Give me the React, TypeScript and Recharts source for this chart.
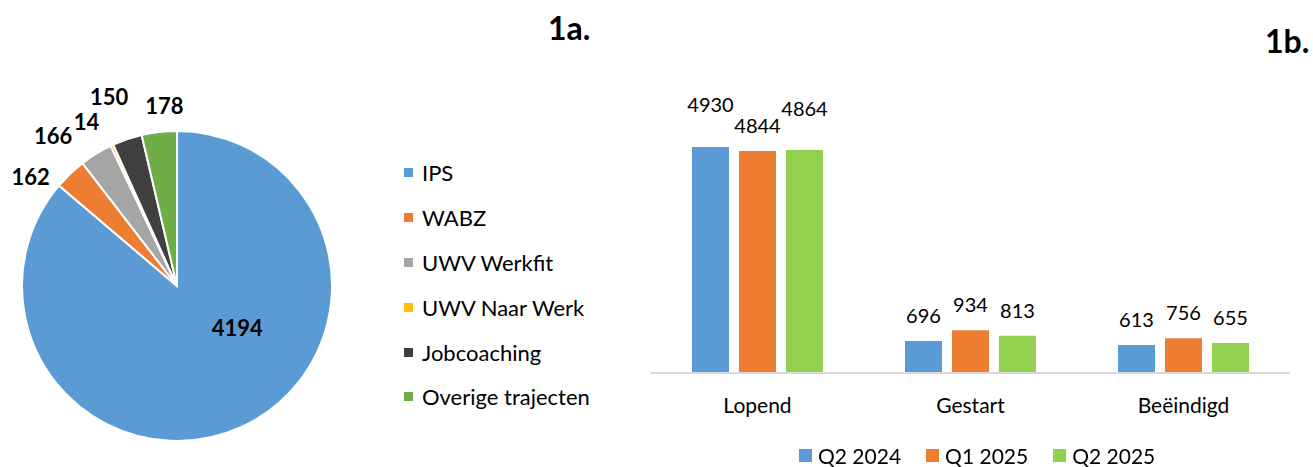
import React from 'react';
import { PieChart, Pie, Cell, BarChart, Bar, XAxis, YAxis, LabelList, Legend } from 'recharts';

const FONT = 'Lato, "Open Sans", sans-serif';

// 1a. trajecten (pie)
const trajectNames = ['IPS', 'WABZ', 'UWV Werkfit', 'UWV Naar Werk', 'Jobcoaching', 'Overige trajecten'];
const trajectCounts = [4194, 162, 166, 14, 150, 178];
const trajectColors = ['#5B9BD5', '#ED7D31', '#A5A5A5', '#FFC000', '#404040', '#70AD47'];

// 1b. status per periode (bars)
const statusCategories = ['Lopend', 'Gestart', 'Beëindigd'];
const q2_2024 = [4930, 696, 613];
const q1_2025 = [4844, 934, 756];
const q2_2025 = [4864, 813, 655];
const periodNames = ['Q2 2024', 'Q1 2025', 'Q2 2025'];
const periodColors = ['#5B9BD5', '#ED7D31', '#92D050'];

// label placement tweaks (Excel moved some labels to avoid overlap)
const pieLabelShift = [31, 9.5, 8, 4, 1, -2.6];
const pieLabelRadius = [73, 183, 195, 188, 201, 181];
const barLabelLift = [
  [17, 0, 0],
  [0, 0, 0],
  [16, 0, 0],
];

const pieData = trajectNames.map((name, i) => ({ name, value: trajectCounts[i] }));
const barData = statusCategories.map((name, i) => ({
  name,
  q2_2024: q2_2024[i],
  q1_2025: q1_2025[i],
  q2_2025: q2_2025[i],
}));
const barKeys = ['q2_2024', 'q1_2025', 'q2_2025'];

const RAD = Math.PI / 180;

const renderPieLabel = (props: any) => {
  const { cx, cy, midAngle, index, value } = props;
  const a = (midAngle + pieLabelShift[index]) * RAD;
  const r = pieLabelRadius[index];
  return (
    <text
      x={cx + r * Math.cos(a)}
      y={cy - r * Math.sin(a)}
      textAnchor="middle"
      dominantBaseline="central"
      fontSize={22}
      fontWeight={700}
      fontFamily={FONT}
      fill="#000"
    >
      {value}
    </text>
  );
};

const makeBarLabel = (lift: number[]) => (props: any) => {
  const { x, y, width, value, index } = props;
  return (
    <text
      x={Number(x) + Number(width) / 2}
      y={Number(y) - 18 - (lift[index] || 0)}
      textAnchor="middle"
      fontSize={20}
      fontFamily={FONT}
      fill="#000"
    >
      {value}
    </text>
  );
};

const PieLegend = () => (
  <div style={{ fontFamily: FONT }}>
    {trajectNames.map((name, i) => (
      <div key={name} style={{ display: 'flex', alignItems: 'center', height: 44.8 }}>
        <span style={{ width: 9, height: 9, background: trajectColors[i], marginRight: 9 }} />
        <span style={{ fontSize: 22, color: '#000' }}>{name}</span>
      </div>
    ))}
  </div>
);

const BarLegend = () => (
  <div style={{ display: 'flex', alignItems: 'center', height: 22, fontFamily: FONT }}>
    {periodNames.map((name, i) => (
      <div key={name} style={{ display: 'flex', alignItems: 'center', marginRight: 25, lineHeight: 1 }}>
        <span style={{ width: 13, height: 13, background: periodColors[i], marginRight: 6 }} />
        <span style={{ fontSize: 21, color: '#000' }}>{name}</span>
      </div>
    ))}
  </div>
);

const titleStyle: React.CSSProperties = {
  position: 'absolute',
  fontFamily: FONT,
  fontWeight: 700,
  fontSize: 32,
  lineHeight: 1,
  color: '#000',
};

export default function App() {
  return (
    <div style={{ position: 'fixed', left: 0, top: 0, width: 1313, height: 467, background: '#fff' }}>
      <div style={{ position: 'absolute', left: 0, top: 0 }}>
        <PieChart width={640} height={467} margin={{ top: 0, right: 0, bottom: 0, left: 0 }}>
          <Pie
            data={pieData}
            dataKey="value"
            nameKey="name"
            cx={177}
            cy={286}
            outerRadius={155}
            startAngle={90}
            endAngle={-270}
            stroke="#fff"
            strokeWidth={2}
            label={renderPieLabel}
            labelLine={false}
            isAnimationActive={false}
          >
            {pieData.map((d, i) => (
              <Cell key={d.name} fill={trajectColors[i]} />
            ))}
          </Pie>
          <Legend
            layout="vertical"
            align="center"
            verticalAlign="middle"
            content={<PieLegend />}
            wrapperStyle={{ left: 404, top: 150.6, width: 230 }}
          />
        </PieChart>
      </div>

      <div style={{ position: 'absolute', left: 620, top: 0 }}>
        <BarChart
          width={693}
          height={467}
          data={barData}
          margin={{ top: 98, right: 23, bottom: 54, left: 31 }}
          barSize={37}
          barGap={10}
        >
          <XAxis
            dataKey="name"
            height={40}
            interval={0}
            axisLine={{ stroke: '#D9D9D9', strokeWidth: 2 }}
            tickLine={false}
            tickSize={0}
            tickMargin={25}
            tick={{ fontSize: 21, fill: '#000', fontFamily: FONT }}
          />
          <YAxis hide domain={[0, 6000]} />
          {barKeys.map((key, i) => (
            <Bar key={key} dataKey={key} name={periodNames[i]} fill={periodColors[i]} isAnimationActive={false}>
              <LabelList dataKey={key} content={makeBarLabel(barLabelLift[i])} />
            </Bar>
          ))}
          <Legend
            layout="horizontal"
            align="center"
            verticalAlign="middle"
            content={<BarLegend />}
            wrapperStyle={{ left: 179, top: 444, width: 420 }}
          />
        </BarChart>
      </div>

      <div style={{ ...titleStyle, left: 548, top: 12 }}>1a.</div>
      <div style={{ ...titleStyle, left: 1265, top: 25 }}>1b.</div>
    </div>
  );
}
